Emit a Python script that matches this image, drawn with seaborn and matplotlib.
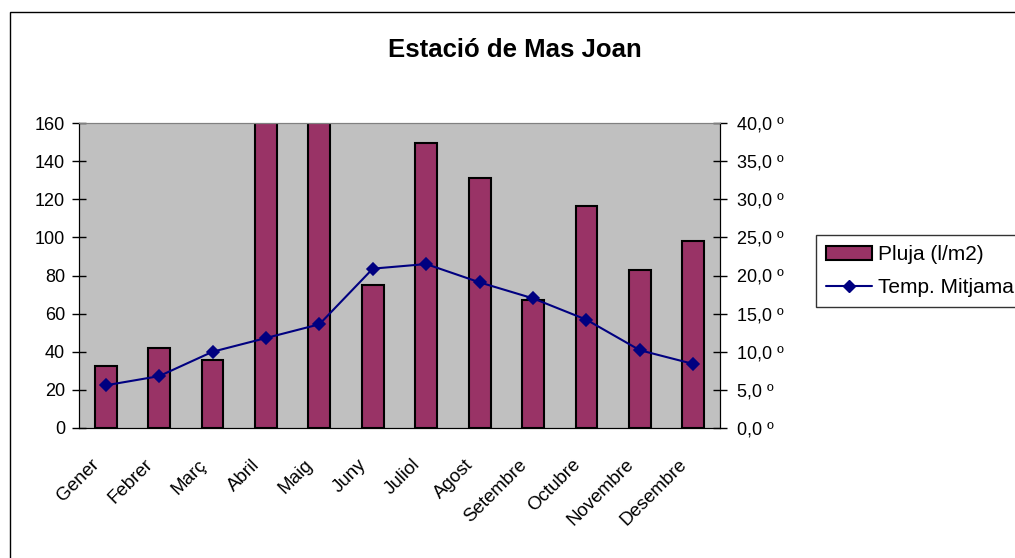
import matplotlib
matplotlib.use("Agg")
import matplotlib.pyplot as plt
import matplotlib.transforms as mtrans
import seaborn as sns
import pandas as pd
from matplotlib.patches import Rectangle, Patch
from matplotlib.lines import Line2D
from matplotlib.ticker import FixedLocator

months = ["Gener", "Febrer", "Març", "Abril", "Maig", "Juny", "Juliol",
          "Agost", "Setembre", "Octubre", "Novembre", "Desembre"]
rain = [32.5, 42, 35.5, 185, 175, 75, 149.5, 131, 67, 116.5, 83, 98]
temp = [5.6, 6.8, 10.0, 11.8, 13.6, 20.9, 21.5, 19.1, 17.0, 14.2, 10.2, 8.4]
left_ticks = [0, 20, 40, 60, 80, 100, 120, 140, 160]
right_ticks = [0, 5, 10, 15, 20, 25, 30, 35, 40]

sns.set_style("white")
plt.rcParams["font.family"] = ["Liberation Sans", "DejaVu Sans"]
plt.rcParams["text.color"] = "black"
plt.rcParams["xtick.color"] = "black"
plt.rcParams["ytick.color"] = "black"
plt.rcParams["axes.labelcolor"] = "black"

df = pd.DataFrame({"mes": months, "pluja": rain, "temp": temp})

fig = plt.figure(figsize=(10.15, 5.58), dpi=100)
ax = fig.add_axes([79/1015, 1-428/558, (720-79)/1015, (428-123)/558])
ax.set_facecolor("#C0C0C0")

sns.barplot(data=df, x="mes", y="pluja", ax=ax, color="#993366", saturation=1,
            width=0.41, edgecolor="black", linewidth=1.5)
ax.set_ylim(0, 160)
ax.set_xlim(-0.5, 11.5)

ax2 = ax.twinx()
sns.pointplot(data=df, x="mes", y="temp", ax=ax2, color="#000080",
              markers="D", linestyles="-", markersize=6, linewidth=1.5)
ax2.set_ylim(0, 40)
ax.set_xlim(-0.5, 11.5)

ax.set_xlabel("")
ax.set_ylabel("")
ax2.set_xlabel("")
ax2.set_ylabel("")

ax.set_yticks(left_ticks)
ax.set_yticklabels([str(v) for v in left_ticks], fontsize=13, color="black")
ax2.set_yticks(right_ticks)
ax2.set_yticklabels([f"{v:.1f}".replace(".", ",") + " º" for v in right_ticks],
                    fontsize=13, color="black")

ax.set_xticks(range(12))
ax.set_xticklabels(months, rotation=45, ha="right", va="top",
                   rotation_mode="anchor", fontsize=13.5, color="black")
ax.tick_params(axis="x", which="major", length=0, pad=13)
offset = mtrans.ScaledTranslation(-15/100, -10/100, fig.dpi_scale_trans)
for lbl in ax.get_xticklabels():
    lbl.set_transform(lbl.get_transform() + offset)
ax.xaxis.set_minor_locator(FixedLocator([i - 0.5 for i in range(13)]))
ax.tick_params(axis="x", which="minor", length=10, direction="inout",
               color="black", width=1)
ax.tick_params(axis="y", length=10, direction="inout", color="black", width=1, pad=5)
ax2.tick_params(axis="y", length=10, direction="inout", color="black", width=1, pad=7)

for a in (ax, ax2):
    for s in a.spines.values():
        s.set_visible(True)
    a.spines["top"].set_color("#808080")
    a.spines["left"].set_color("black")
    a.spines["bottom"].set_color("black")
    a.spines["right"].set_color("black")
    a.grid(False)

fig.text(515/1015, 1-50/558, "Estació de Mas Joan", ha="center", va="center",
         fontsize=18.5, fontweight="bold", color="black")

handles = [Patch(facecolor="#993366", edgecolor="black", linewidth=1.5),
           Line2D([0], [0], color="#000080", marker="D", markersize=6, linewidth=1.5)]
leg = fig.legend(handles, ["Pluja (l/m2)", "Temp. Mitjama"], loc="upper left",
                 bbox_to_anchor=(816/1015, 1-235/558), fontsize=15,
                 frameon=True, fancybox=False, shadow=False,
                 handlelength=2.2, handletextpad=0.3, borderpad=0.5,
                 labelspacing=0.65, borderaxespad=0)
leg.get_frame().set_edgecolor("black")
leg.get_frame().set_linewidth(1)
for t in leg.get_texts():
    t.set_color("black")

fig.patches.append(Rectangle((10/1015, -0.1), 1.2, 1-12/558+0.1,
                             transform=fig.transFigure, fill=False,
                             edgecolor="black", linewidth=1))

fig.savefig("out.png", dpi=100, facecolor="white")
